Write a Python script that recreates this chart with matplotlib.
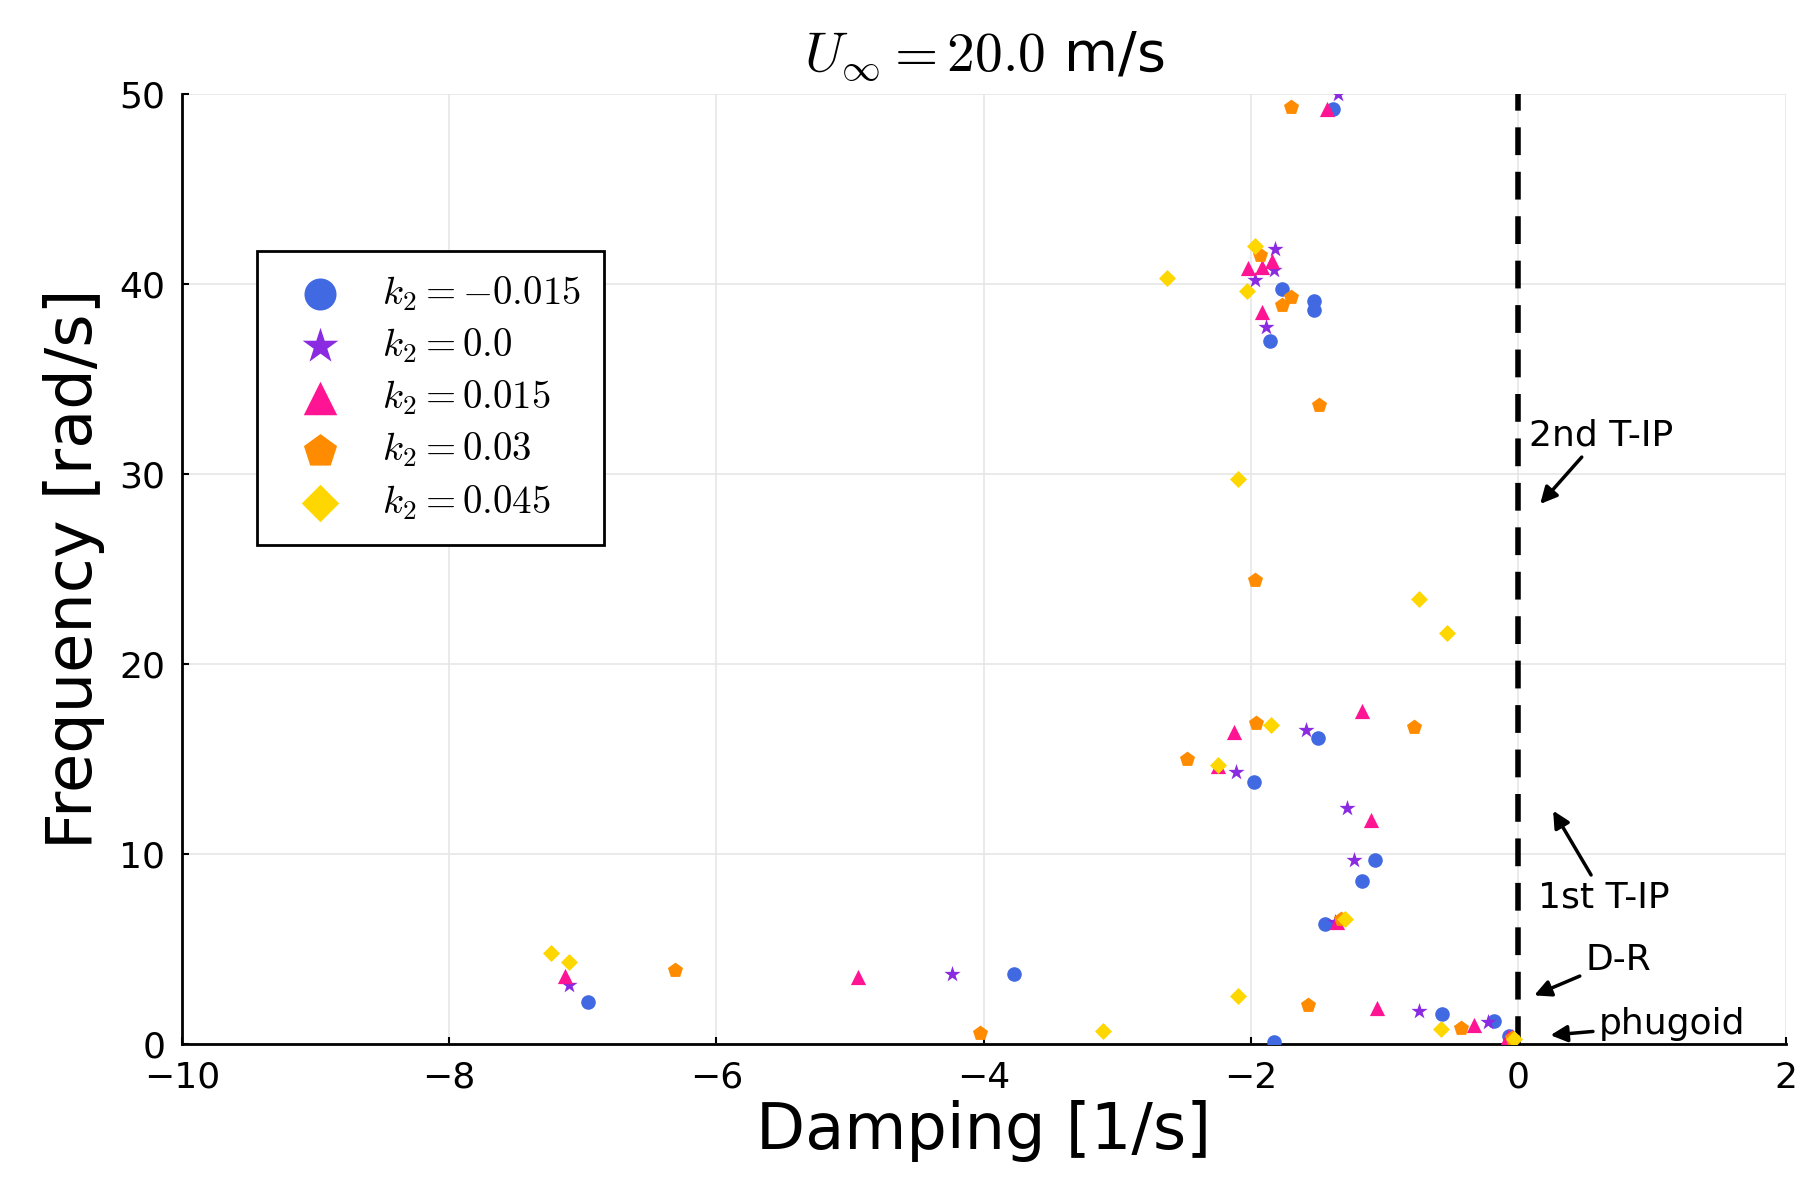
import numpy as np
import matplotlib.pyplot as plt

plt.rcParams['mathtext.fontset'] = 'cm'

# k2 = -0.015
blue_x = [-1.39, -1.77, -1.53, -1.53, -1.86, -1.50, -1.98, -1.07, -1.17, -1.45, -3.77, -6.96, -0.57, -0.18, -0.07, -1.83]
blue_y = [49.2, 39.7, 39.1, 38.6, 37.0, 16.1, 13.8, 9.7, 8.6, 6.3, 3.7, 2.2, 1.6, 1.2, 0.4, 0.1]
# k2 = 0.0
star_x = [-1.35, -1.82, -1.83, -1.97, -1.89, -1.59, -2.11, -1.28, -1.23, -1.37, -4.24, -7.10, -0.74, -0.23, -0.05]
star_y = [50.0, 41.8, 40.7, 40.2, 37.7, 16.5, 14.3, 12.4, 9.7, 6.4, 3.7, 3.1, 1.75, 1.15, 0.35]
# k2 = 0.015
tri_x = [-1.43, -2.02, -1.92, -1.84, -1.92, -1.17, -2.13, -2.25, -1.10, -1.36, -4.94, -7.13, -1.06, -0.33, -0.08]
tri_y = [49.2, 40.8, 40.9, 41.2, 38.5, 17.5, 16.4, 14.6, 11.8, 6.4, 3.5, 3.6, 1.9, 1.0, 0.35]
# k2 = 0.03
pent_x = [-1.70, -1.93, -1.70, -1.77, -1.49, -1.97, -1.96, -0.78, -2.48, -1.33, -6.31, -1.57, -4.03, -0.43, -0.05]
pent_y = [49.3, 41.5, 39.3, 38.9, 33.6, 24.4, 16.9, 16.7, 15.0, 6.6, 3.9, 2.05, 0.6, 0.85, 0.3]
# k2 = 0.045
dia_x = [-1.97, -2.03, -2.63, -2.10, -0.74, -0.53, -1.85, -2.25, -1.30, -7.24, -7.10, -2.10, -3.11, -0.58, -0.03]
dia_y = [42.0, 39.6, 40.3, 29.7, 23.4, 21.6, 16.8, 14.7, 6.6, 4.8, 4.3, 2.5, 0.7, 0.8, 0.25]

series = [
    (blue_x, blue_y, 'o', '#4169E1', r'$k_2 = -0.015$', 110),
    (star_x, star_y, '*', '#8A2BE2', r'$k_2 = 0.0$', 150),
    (tri_x, tri_y, '^', '#FF1493', r'$k_2 = 0.015$', 120),
    (pent_x, pent_y, 'p', '#FF8C00', r'$k_2 = 0.03$', 130),
    (dia_x, dia_y, 'D', '#FFD700', r'$k_2 = 0.045$', 75),
]

fig = plt.figure(figsize=(18, 12), dpi=100)
ax = fig.add_axes([0.101, 0.13, 0.891, 0.792])

for x, y, m, c, lab, s in series:
    ax.scatter(x, y, marker=m, color=c, s=s, label=lab, linewidths=0, zorder=3)

ax.axvline(0, color='black', linestyle=(0, (5, 3)), linewidth=4, zorder=2)

ax.set_xlim(-10, 2)
ax.set_ylim(0, 50)
ax.set_xticks([-10, -8, -6, -4, -2, 0, 2])
ax.set_yticks([0, 10, 20, 30, 40, 50])
ax.grid(True, color='#e6e6e6', linewidth=1.2)
ax.set_axisbelow(True)
for sp in ['top', 'right']:
    ax.spines[sp].set_visible(False)
for sp in ['left', 'bottom']:
    ax.spines[sp].set_linewidth(2)
ax.tick_params(labelsize=26, width=1.5, length=5, direction='in', pad=12)

ax.set_xlabel('Damping [1/s]', fontsize=46, labelpad=4)
ax.set_ylabel('Frequency [rad/s]', fontsize=46, labelpad=10)
ax.set_title(r'$U_\infty = 20.0$ m/s', fontsize=40, pad=16)

arrow = dict(arrowstyle='-|>', color='black', lw=2.5, mutation_scale=25)
ax.annotate('2nd T-IP', xy=(0.15, 28.3), xytext=(0.08, 31.5), fontsize=26,
            arrowprops=arrow)
ax.annotate('1st T-IP', xy=(0.25, 12.4), xytext=(0.15, 7.2), fontsize=26,
            arrowprops=arrow)
ax.annotate('D-R', xy=(0.1, 2.5), xytext=(0.5, 3.9), fontsize=26,
            arrowprops=arrow)
ax.annotate('phugoid', xy=(0.22, 0.45), xytext=(0.6, 0.5), fontsize=26,
            arrowprops=arrow)

leg = ax.legend(loc='upper left', bbox_to_anchor=(0.035, 0.855), fontsize=28,
                markerscale=2.2, fancybox=False, edgecolor='black',
                framealpha=1, handletextpad=0.6, borderpad=0.6,
                labelspacing=0.35)
leg.get_frame().set_linewidth(2)

fig.savefig('out.png', dpi=100)
